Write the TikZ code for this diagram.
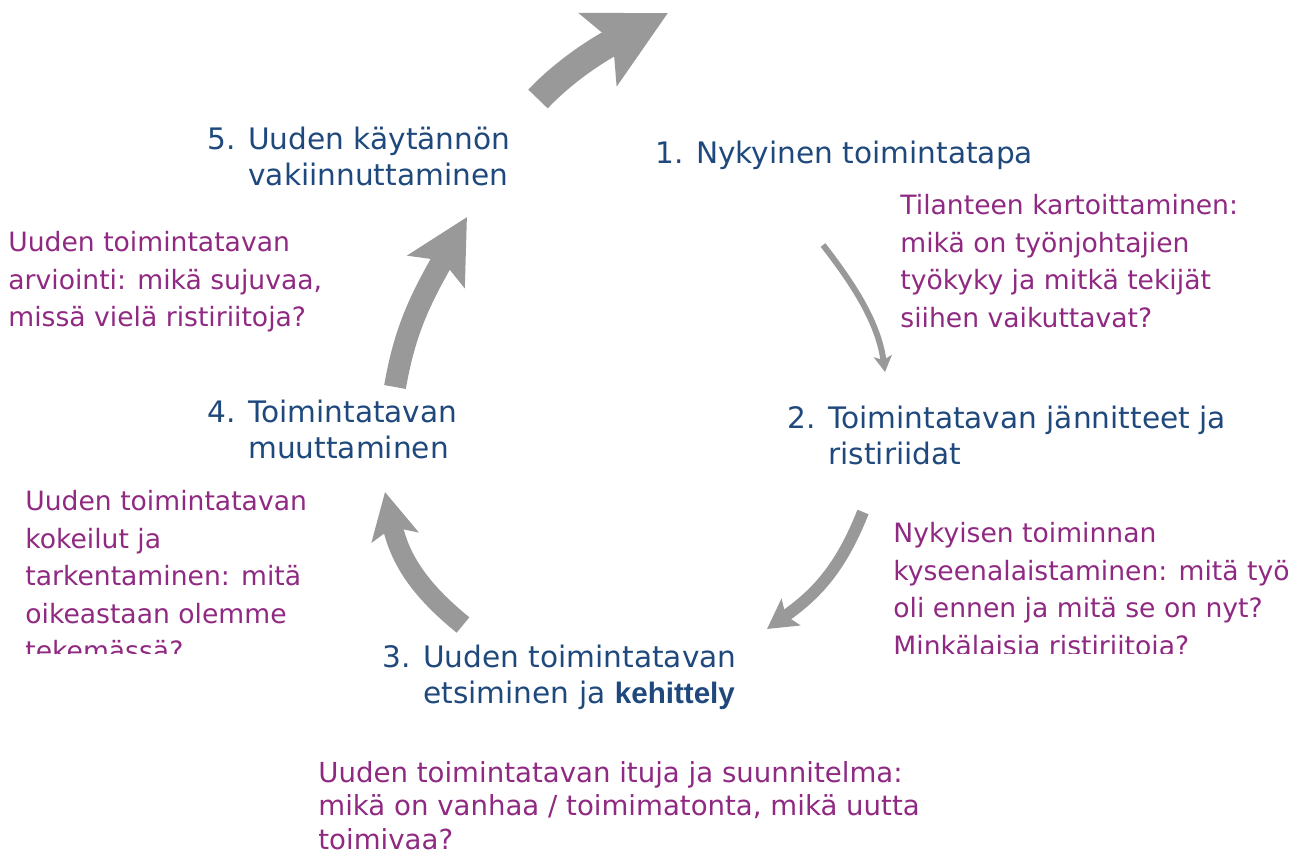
\documentclass[tikz,border=0pt]{standalone}
\usepackage{fontspec}
\setmainfont{DejaVu Sans}
\newfontfamily\boldsans{Liberation Sans}
\usepackage{xcolor}
\usetikzlibrary{arrows.meta}

\definecolor{stageblue}{RGB}{31,73,125}
\definecolor{notepurple}{RGB}{143,41,130}
\definecolor{arrowgray}{RGB}{153,153,153}

\newcommand{\stagefont}{\fontsize{14.8}{18}\selectfont}
\newcommand{\notefont}{\fontsize{13.3}{18.75}\selectfont}
\newcommand{\hang}{\hspace*{20.5pt}}

\tikzset{
  stage/.style={font=\stagefont, text=stageblue, align=left, anchor=north west, inner sep=0pt},
  note/.style={font=\notefont, text=notepurple, align=left, anchor=north west, inner sep=0pt},
  cyclearrow/.style={draw=arrowgray, line width=#1, line cap=butt}
}

\begin{document}
\begin{tikzpicture}[x=0.5pt, y=-0.5pt]
  \useasboundingbox (0,0) rectangle (1300,854);

  % stages of the cycle
  \node[stage] (s5) at (207,127) {5. Uuden käytännön\\\hang vakiinnuttaminen};
  \node[stage] (s1) at (655,141) {1. Nykyinen toimintatapa};
  \node[stage] (s2) at (787,406) {2. Toimintatavan jännitteet ja\\\hang ristiriidat};
  \node[stage] (s3) at (382,645) {3. Uuden toimintatavan\\\hang etsiminen ja {\boldsans\bfseries kehittely}};
  \node[stage] (s4) at (207,400) {4. Toimintatavan\\\hang muuttaminen};

  % questions
  \node[note] (q1) at (900,194) {Tilanteen kartoittaminen:\\mikä on työnjohtajien\\työkyky ja mitkä tekijät\\siihen vaikuttavat?};
  \node[note, font=\fontsize{13.8}{16.75}\selectfont] (q3) at (318,761)
    {Uuden toimintatavan ituja ja suunnitelma:\\mikä on vanhaa / toimimatonta, mikä uutta\\toimivaa?};
  \node[note] (q5) at (8,231) {Uuden toimintatavan\\arviointi: mikä sujuvaa,\\missä vielä ristiriitoja?};
  \begin{scope}
    \clip (0,0) rectangle (1300,653);
    \node[note] (q2) at (893,522) {Nykyisen toiminnan\\kyseenalaistaminen: mitä työ\\oli ennen ja mitä se on nyt?\\Minkälaisia ristiriitoja?};
    \node[note] (q4) at (25,490) {Uuden toimintatavan\\kokeilut ja\\tarkentaminen: mitä\\oikeastaan olemme\\tekemässä?};
  \end{scope}

  % arrows
  \coordinate (a1s) at (823,245);  \coordinate (a1e) at (885,372);
  \coordinate (a2s) at (863,512);  \coordinate (a2e) at (767,629);
  \coordinate (a3s) at (463,625);  \coordinate (a3e) at (385,492);
  \coordinate (a4s) at (395,387);  \coordinate (a4e) at (467,217);
  \coordinate (a5s) at (538,99);   \coordinate (a5e) at (668,13);

  \draw[cyclearrow=3pt, -{Stealth[length=8pt, width=9pt, inset=2pt]}]
    (a1s) .. controls (850,280) and (878,320) .. (a1e);
  \draw[cyclearrow=6pt, -{Stealth[length=14.5pt, width=16pt, inset=3pt]}]
    (a2s) .. controls (840,570) and (815,595) .. (a2e);
  \draw[cyclearrow=10pt, -{Stealth[length=23pt, width=23.5pt, inset=5pt]}]
    (a3s) .. controls (420,590) and (400,560) .. (a3e);
  \draw[cyclearrow=11pt, -{Stealth[length=31pt, width=32pt, inset=6pt]}]
    (a4s) .. controls (405,330) and (420,300) .. (a4e);
  \draw[cyclearrow=13.5pt, -{Stealth[length=39pt, width=40pt, inset=8pt]}]
    (a5s) .. controls (575,60) and (620,38) .. (a5e);
\end{tikzpicture}
\end{document}
